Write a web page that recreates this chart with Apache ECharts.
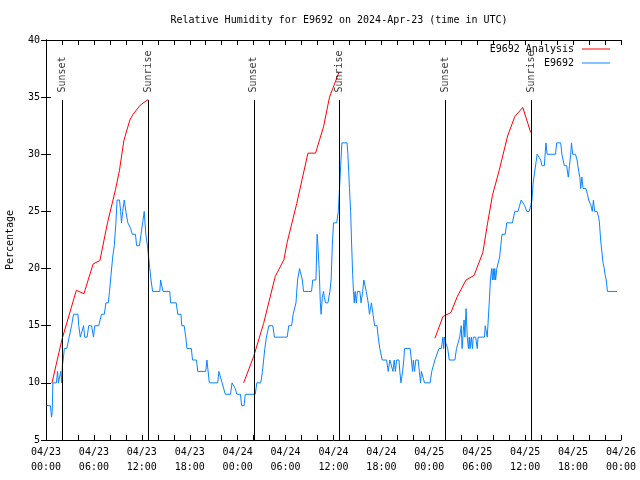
<!DOCTYPE html>
<html>
<head>
<meta charset="utf-8">
<script src="https://cdn.jsdelivr.net/npm/echarts@6/dist/echarts.min.js"></script>
<style>html,body{margin:0;padding:0;background:#fff;}#c{width:640px;height:480px;}</style>
</head>
<body>
<div id="c"></div>
<script>
// x values are hours since 2024-04-23 00:00 UTC
const xTickLabels = ["04/23\n00:00","04/23\n06:00","04/23\n12:00","04/23\n18:00","04/24\n00:00","04/24\n06:00","04/24\n12:00","04/24\n18:00","04/25\n00:00","04/25\n06:00","04/25\n12:00","04/25\n18:00","04/26\n00:00"];

const redHours1 = [0.75, 2.0, 3.8, 4.75, 5.9, 6.75, 7.7, 8.7, 9.2, 9.75, 10.5, 10.9, 11.8, 12.8];
const redValues1 = [10.0, 13.8, 18.1, 17.8, 20.4, 20.7, 24.0, 26.9, 28.6, 31.2, 33.0, 33.5, 34.3, 34.8];
const redHours2 = [24.75, 26.0, 27.25, 28.7, 29.8, 30.2, 31.4, 32.8, 33.75, 34.75, 35.5, 36.7];
const redValues2 = [10.0, 12.3, 15.2, 19.3, 20.8, 22.3, 25.7, 30.1, 30.1, 32.4, 35.0, 37.2];
const redHours3 = [48.7, 49.7, 50.7, 51.5, 52.6, 53.6, 54.7, 55.3, 55.9, 56.75, 57.8, 58.7, 59.7, 60.7];
const redValues3 = [13.9, 15.8, 16.15, 17.55, 19.0, 19.4, 21.4, 24.0, 26.4, 28.6, 31.6, 33.3, 34.1, 31.9];

const blueHours = [0.08,0.55,0.62,0.7,0.78,0.86,1.3,1.45,1.55,1.75,1.85,1.95,2.05,2.15,2.3,2.6,2.9,3.2,3.45,4.0,4.1,4.3,4.55,4.7,4.85,5.15,5.35,5.7,5.85,5.95,6.1,6.6,6.95,7.3,7.5,7.8,7.95,8.1,8.35,8.55,8.75,8.9,9.2,9.35,9.45,9.6,9.8,10.0,10.25,10.6,10.8,11.2,11.35,11.7,11.9,12.1,12.3,12.4,12.5,12.7,12.85,13.0,13.15,13.35,14.25,14.35,14.55,14.65,15.5,15.6,16.3,16.5,16.9,17.0,17.3,17.5,17.65,18.2,18.35,18.85,19.0,20.0,20.15,20.3,20.45,21.5,21.65,21.9,22.05,22.3,22.45,23.1,23.3,23.55,23.7,23.9,24.35,24.5,24.8,24.95,26.2,26.4,26.9,27.1,27.25,27.4,27.6,27.9,28.4,28.6,30.2,30.4,30.75,30.95,31.15,31.3,31.5,31.75,32.0,32.1,32.25,33.25,33.4,33.8,33.95,34.05,34.2,34.35,34.45,34.6,34.75,34.85,35.0,35.3,35.55,35.7,35.85,36.0,36.4,36.6,36.75,36.9,37.05,37.7,37.8,37.9,38.0,38.15,38.25,38.4,38.5,38.6,38.7,38.85,39.0,39.3,39.45,39.65,39.8,39.95,40.1,40.35,40.5,40.75,40.95,41.15,41.45,41.6,41.8,42.1,42.65,42.85,43.05,43.3,43.45,43.6,43.75,43.9,44.2,44.3,44.45,44.55,44.65,44.8,44.9,45.6,45.75,45.9,46.0,46.15,46.3,46.6,46.75,46.9,47.0,47.2,47.4,48.1,48.3,48.55,48.7,48.95,49.2,49.5,49.7,49.8,49.9,50.05,50.3,50.5,51.2,51.4,51.65,51.8,52.0,52.1,52.2,52.35,52.45,52.6,52.75,52.9,53.0,53.1,53.25,53.4,53.5,53.8,54.0,54.1,54.9,55.0,55.15,55.25,55.4,55.5,55.65,55.8,55.9,56.0,56.1,56.2,56.3,56.45,56.65,56.8,56.95,57.1,57.5,57.7,58.4,58.7,59.1,59.3,59.5,59.75,59.95,60.2,60.5,60.7,60.85,61.0,61.1,61.3,61.5,61.75,61.95,62.1,62.4,62.6,62.75,63.8,63.95,64.45,64.6,64.75,64.9,65.2,65.4,65.55,65.7,65.8,65.95,66.3,66.5,66.7,66.85,66.95,67.1,67.25,67.6,67.8,67.95,68.1,68.25,68.4,68.55,68.7,69.0,69.2,69.3,69.45,69.6,69.75,69.9,70.0,70.15,70.3,71.5];
const blueValues = [8,8,7.5,7,7.5,10,10,11,10,10,11,10,11.5,12,13,13,14,15,16,16,15,14,14,15,14,14,15,15,15,14,15,15,16,16,17,17,18,18,21,22,24,26,26,25,24,25,26,25,24,23.5,23,23,22,22,23,24,25,25,23,22,21,20,19,18,18,19,19,18,18,17,17,16,16,15,15,14,13,13,12,12,11,11,12,12,10,10,11,11,10,10,9,9,10,10,9.5,9,9,8,8,9,9,10,10,11,12,13,14,15,15,14,14,15,15,16,16,17,19,20,20,19,18,18,19,19,23,22,20,17,16,17.5,18,17.5,17,17,18,19,22,24,24,25,27,29,31,31,30,28.5,27,25,22.5,19.5,18,17,18,17,18,18,17,18,19,19,18,17,16,17,16,15,15,14,13,12,12,11,12,12,11,12,11,12,12,11,10,10.5,11,12,13,13,12,11,12,11,12,12,11,10,11,10.5,10,10,11,11,12,12,13,13,14,13,14,13.5,13,12,12,13,13,14,15,13,14,15.5,14,16.5,14,13,14,13,14,13,14,14,13,14,14,15,15,14,14,17,19,20,19,20,19,20,19,20,20,21,22,23,23,24,24,25,25,25.5,26,26,25.5,25,25,25.5,26,27.5,28,28,30,30,29.5,29,29,31,30,30,31,31,30,29.5,29,29,28,29,30,31,30,30,29.5,28.5,28,27,28,27,27,26.5,26,26,25.5,25,26,25,25,24.5,24,22.5,21.5,20.5,20,19.5,19,18,18];

const sunHours = [2.03, 12.8, 26.03, 36.78, 50.0, 60.77];
const sunLabels = ["Sunset", "Sunrise", "Sunset", "Sunrise", "Sunset", "Sunrise"];
const sunLineTop = 34.75;
const yMin = 5, yMax = 40;

const FONT = "DejaVu Sans Mono";
const RED = '#ff0000', BLUE = '#0a84ff';

function seg(hs, vs) { return hs.map((h, i) => [h, vs[i]]); }
const redData = seg(redHours1, redValues1).concat([[24, null]], seg(redHours2, redValues2), [[48, null]], seg(redHours3, redValues3));
const blueData = seg(blueHours, blueValues);
const sunData = sunHours.map((h, i) => ({ value: [h, sunLineTop], name: sunLabels[i] }));
const sunLines = sunHours.map(h => [{ coord: [h, yMin] }, { coord: [h, sunLineTop] }]);

const axisCommon = {
  type: 'value',
  axisLine: { show: true, lineStyle: { color: '#000', width: 1 } },
  axisTick: { show: true, inside: true, length: 5, lineStyle: { color: '#000' } },
  splitLine: { show: false }
};

const chart = echarts.init(document.getElementById('c'), null, { renderer: 'canvas' });
chart.setOption({
  animation: false,
  backgroundColor: '#fff',
  title: {
    text: 'Relative Humidity for E9692 on 2024-Apr-23 (time in UTC)',
    left: 334, top: 10, textAlign: 'center',
    textStyle: { fontFamily: FONT, fontSize: 10, fontWeight: 'normal', color: '#000' }
  },
  legend: {
    data: ['E9692 Analysis', 'E9692'],
    orient: 'vertical', right: 30, top: 42, align: 'right', padding: 0,
    icon: 'rect', itemWidth: 28, itemHeight: 1, itemGap: 0,
    selectedMode: false,
    textStyle: { fontFamily: FONT, fontSize: 10, color: '#000', lineHeight: 14, padding: [0, 3, 0, 0] }
  },
  grid: { left: 46, right: 19, top: 40, bottom: 40, containLabel: false, outerBoundsMode: 'none' },
  xAxis: [
    Object.assign({}, axisCommon, {
      position: 'bottom', min: 0, max: 72, interval: 6,
      minorTick: { show: true, splitNumber: 3, length: 5, lineStyle: { color: '#000' } },
      axisLabel: { fontFamily: FONT, fontSize: 10, color: '#000', lineHeight: 15, margin: 5,
        formatter: v => xTickLabels[Math.round(v / 6)] }
    }),
    Object.assign({}, axisCommon, {
      position: 'top', min: 0, max: 72, interval: 6,
      minorTick: { show: true, splitNumber: 3, length: 5, lineStyle: { color: '#000' } },
      axisLabel: { show: false }
    })
  ],
  yAxis: [
    Object.assign({}, axisCommon, {
      position: 'left', min: yMin, max: yMax, interval: 5,
      name: 'Percentage', nameLocation: 'middle', nameGap: 31,
      nameTextStyle: { fontFamily: FONT, fontSize: 10, color: '#000' },
      axisLabel: { fontFamily: FONT, fontSize: 10, color: '#000', margin: 6 }
    }),
    Object.assign({}, axisCommon, {
      position: 'right', min: yMin, max: yMax, interval: 5,
      axisLabel: { show: false }
    })
  ],
  series: [
    {
      name: 'E9692 Analysis', type: 'line', data: redData, showSymbol: false, connectNulls: false,
      lineStyle: { color: RED, width: 1 }, itemStyle: { color: RED }, z: 2
    },
    {
      name: 'E9692', type: 'line', data: blueData, showSymbol: false,
      lineStyle: { color: BLUE, width: 1 }, itemStyle: { color: BLUE }, z: 3
    },
    {
      name: 'sun', type: 'scatter', data: sunData, symbolSize: 1, z: 5,
      itemStyle: { color: 'rgba(0,0,0,0)' },
      label: {
        show: true, position: 'top', distance: 7, rotate: 90, align: 'left', verticalAlign: 'middle',
        formatter: p => p.name, fontFamily: FONT, fontSize: 10, color: '#000'
      },
      markLine: {
        silent: true, symbol: ['none', 'none'], animation: false,
        lineStyle: { color: '#000', width: 1, type: 'solid' },
        label: { show: false },
        data: sunLines
      }
    }
  ]
});
</script>
</body>
</html>
